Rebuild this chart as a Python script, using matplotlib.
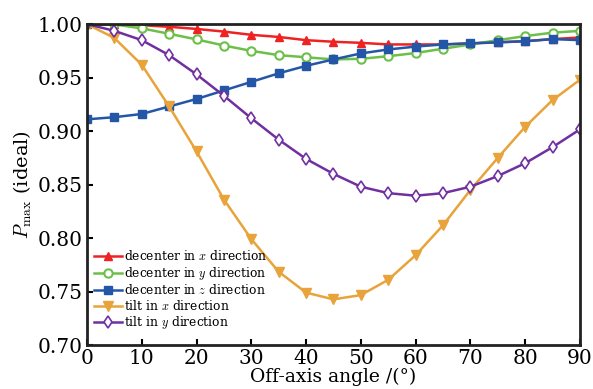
import numpy as np
import matplotlib
matplotlib.use("Agg")
import matplotlib.pyplot as plt

plt.rcParams['font.family'] = ['DejaVu Serif']
plt.rcParams['mathtext.fontset'] = 'cm'

angle = np.arange(0, 95, 5)
decenter_x = [1.0, 0.9998, 0.999, 0.9975, 0.9955, 0.993, 0.990, 0.988, 0.985, 0.9835,
              0.9825, 0.981, 0.981, 0.981, 0.982, 0.983, 0.984, 0.986, 0.9875]
decenter_y = [1.0, 0.9997, 0.996, 0.991, 0.9857, 0.980, 0.975, 0.971, 0.969, 0.967,
              0.9676, 0.970, 0.973, 0.977, 0.981, 0.985, 0.9888, 0.992, 0.9937]
decenter_z = [0.911, 0.913, 0.916, 0.923, 0.930, 0.938, 0.946, 0.954, 0.961, 0.967,
              0.9726, 0.9763, 0.979, 0.981, 0.982, 0.983, 0.984, 0.986, 0.985]
tilt_x = [1.0, 0.987, 0.962, 0.923, 0.881, 0.836, 0.799, 0.7685, 0.749, 0.7427,
          0.7467, 0.761, 0.784, 0.812, 0.845, 0.875, 0.904, 0.929, 0.948]
tilt_y = [1.0, 0.9937, 0.985, 0.971, 0.953, 0.933, 0.912, 0.892, 0.874, 0.860,
          0.848, 0.842, 0.8396, 0.842, 0.848, 0.858, 0.870, 0.885, 0.9016]

fig = plt.figure(figsize=(5.93, 3.89), dpi=100)
ax = fig.add_axes([0.1467, 0.113, 0.8313, 0.825])

ax.plot(angle, decenter_x, color='#ee2222', marker='^', ms=6, lw=1.8,
        label='decenter in $x$ direction')
ax.plot(angle, decenter_y, color='#6cc04a', marker='o', ms=6, lw=1.8, mfc='white',
        mew=1.5, label='decenter in $y$ direction')
ax.plot(angle, decenter_z, color='#2456a8', marker='s', ms=5.5, lw=1.8,
        label='decenter in $z$ direction')
ax.plot(angle, tilt_x, color='#e8a33a', marker='v', ms=6.5, lw=1.8,
        label='tilt in $x$ direction')
ax.plot(angle, tilt_y, color='#7030a0', marker='d', ms=6, lw=1.8, mfc='white',
        mew=1.2, label='tilt in $y$ direction')

ax.set_xlim(0, 90)
ax.set_ylim(0.70, 1.00)
ax.set_xticks(np.arange(0, 100, 10))
ax.set_yticks(np.arange(0.70, 1.001, 0.05))
ax.set_yticklabels(['%.2f' % v for v in np.arange(0.70, 1.001, 0.05)])
ax.tick_params(direction='in', length=4, width=1.5, labelsize=14.5, top=False, right=False,
               pad=3)
for s in ax.spines.values():
    s.set_linewidth(2)
    s.set_color('#222222')

ax.set_xlabel('Off-axis angle /(°)', fontsize=13.5, labelpad=0)
ax.set_ylabel(r'$P_{\mathrm{max}}$ (ideal)', fontsize=14, labelpad=3)

ax.legend(loc='lower left', frameon=False, fontsize=8.8, handlelength=2.3,
          handletextpad=0.1, labelspacing=0.12, borderaxespad=0.2,
          bbox_to_anchor=(0.0, 0.02))

fig.savefig('out.png', dpi=100)
